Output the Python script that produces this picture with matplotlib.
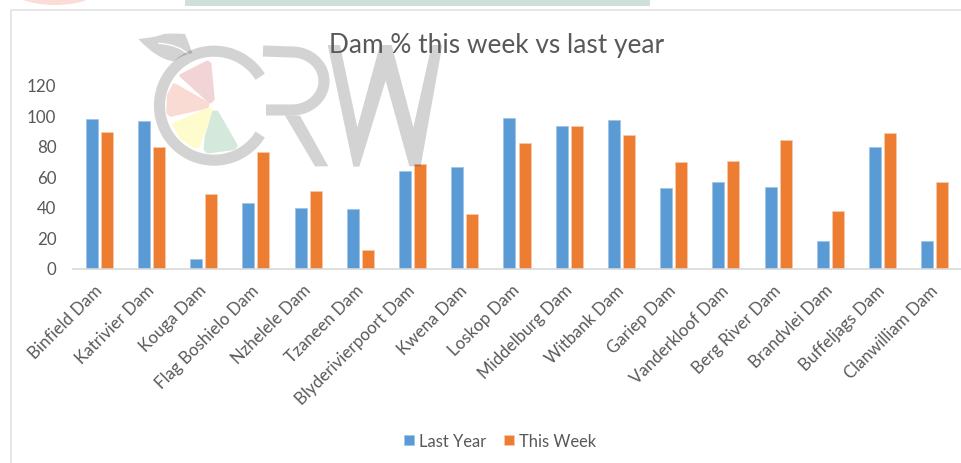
import matplotlib
matplotlib.use('Agg')
import matplotlib.pyplot as plt
import matplotlib.patches as patches
from matplotlib.path import Path
from matplotlib.transforms import ScaledTranslation
import numpy as np

plt.rcParams['font.family'] = ['Lato', 'DejaVu Sans']

# ── Data ──
dams = ['Binfield Dam', 'Katrivier Dam', 'Kouga Dam', 'Flag Boshielo Dam', 'Nzhelele Dam',
        'Tzaneen Dam', 'Blyderivierpoort Dam', 'Kwena Dam', 'Loskop Dam', 'Middelburg Dam',
        'Witbank Dam', 'Gariep Dam', 'Vanderkloof Dam', 'Berg River Dam', 'Brandvlei Dam',
        'Buffeljags Dam', 'Clanwilliam Dam']
last_year = [98.7, 97.4, 6.8, 43.4, 40.1, 39.7, 64.5, 67.3, 99.3, 94.0, 98.0, 53.5, 57.2, 53.9, 18.4, 80.3, 18.4]
this_week = [90.1, 80.3, 49.6, 77.2, 51.3, 12.5, 69.1, 36.0, 82.9, 93.9, 88.2, 70.4, 71.0, 85.0, 38.2, 89.5, 57.2]
y_ticks = [0, 20, 40, 60, 80, 100, 120]

# ── Figure setup ──
W, H = 961, 464
fig = plt.figure(figsize=(W / 100, H / 100), dpi=100)
fig.patch.set_facecolor('white')

TEXT = '#595959'
LINE = '#D9D9D9'

# ── Background layer in pixel coords ──
bg = fig.add_axes([0, 0, 1, 1], zorder=0)
bg.set_xlim(0, W)
bg.set_ylim(H, 0)
bg.axis('off')
bg.add_patch(patches.Rectangle((185, 0), 465, 7, facecolor='#CFE0D8', edgecolor='none'))
bg.add_patch(patches.Ellipse((55, -12), 92, 36, facecolor='#FBDDD5', edgecolor='none'))
bg.plot([10.5, 10.5, W], [H, 11, 11], color='#E2E2E2', linewidth=1.2)

# ── Bars ──
ax = fig.add_axes([73 / W, 1 - 270 / H, 888 / W, (270 - 87.5) / H], zorder=1)
ax.patch.set_alpha(0)
x = np.arange(len(dams))
ax.bar(x - 0.144, last_year, 0.23, color='#5B9BD5', edgecolor='#9DC3E6', linewidth=0.5, label='Last Year')
ax.bar(x + 0.144, this_week, 0.23, color='#ED7D31', edgecolor='#F8CBAD', linewidth=0.5, label='This Week')
ax.set_xlim(-0.5, len(dams) - 0.5)
ax.set_ylim(0, 120)
ax.set_yticks(y_ticks)
ax.set_xticks(x)
ax.set_xticklabels(dams, rotation=45, ha='right', va='top', rotation_mode='anchor',
                   fontsize=12.2, color=TEXT)
ax.tick_params(axis='both', length=0)
ax.tick_params(axis='x', pad=9)
ax.tick_params(axis='y', pad=12, labelsize=12.2, labelcolor=TEXT)
for s in ['top', 'left', 'right']:
    ax.spines[s].set_visible(False)
ax.spines['bottom'].set_color(LINE)
ax.spines['bottom'].set_linewidth(1.2)

# nudge tick labels, pad alone can't do it
x_shift = ScaledTranslation(-5.5 / 100, 0, fig.dpi_scale_trans)
for lab in ax.get_xticklabels():
    lab.set_transform(lab.get_transform() + x_shift)
y_shift = ScaledTranslation(0, 1.5 / 100, fig.dpi_scale_trans)
for lab in ax.get_yticklabels():
    lab.set_transform(lab.get_transform() + y_shift)

fig.text(497 / W, 1 - 46 / H, 'Dam % this week vs last year', ha='center', va='center',
         fontsize=18.9, color=TEXT)

leg = fig.legend(loc='center', bbox_to_anchor=(500 / W, 1 - 442 / H), ncol=2, frameon=False,
                 fontsize=11.9, labelcolor=TEXT, handlelength=0.6, handleheight=0.6,
                 handletextpad=0.3, columnspacing=1.1, borderpad=0)

# ── Watermark: translucent so it darkens what is under it ──
wm = fig.add_axes([0, 0, 1, 1], zorder=3)
wm.set_xlim(0, W)
wm.set_ylim(H, 0)
wm.axis('off')
wm.patch.set_alpha(0)
GREY = dict(color='black', alpha=0.173)

def z(points):
    return [(px / 3, py / 3) for px, py in points]

def leaf_crop(points):
    return [(130 + px / 3, 25 + py / 3) for px, py in points]

# C ring
t = np.radians(np.linspace(32, 328, 120))
wm.plot(642 / 3 + 54.5 * np.cos(t), 320 / 3 - 54.5 * np.sin(t), linewidth=8, solid_capstyle='butt', **GREY)

# R
r_t = np.radians(np.linspace(90, -90, 40))
r_x = [263] + list(292 + 32 * np.cos(r_t)) + [266]
r_y = [52] + list(82 - 29 * np.sin(r_t)) + [111]
wm.plot(r_x, r_y, linewidth=8, solid_capstyle='butt', solid_joinstyle='round', **GREY)
wm.add_patch(patches.Polygon(z([(855, 350), (900, 350), (985, 502), (945, 502)]),
                             facecolor='black', edgecolor='none', alpha=0.173))

# W
wm.add_patch(patches.Polygon(z([(983, 138), (1020, 138), (1072, 385), (1140, 138), (1175, 138),
                                (1240, 385), (1295, 138), (1327, 138), (1262, 502), (1228, 502),
                                (1157, 245), (1078, 503), (1060, 503)]),
                             facecolor='black', edgecolor='none', alpha=0.173))

# leaf
leaf_pts = leaf_crop([(25, 45), (80, 40), (100, 30), (130, 27), (165, 30), (178, 60), (187, 88),
                      (160, 92), (130, 112), (80, 105), (25, 45)])
leaf_codes = [Path.MOVETO, Path.CURVE3, Path.CURVE3, Path.CURVE3, Path.CURVE3, Path.CURVE3, Path.CURVE3,
              Path.CURVE3, Path.CURVE3, Path.CURVE3, Path.CURVE3]
wm.add_patch(patches.PathPatch(Path(leaf_pts, leaf_codes), facecolor='black', edgecolor='none', alpha=0.173))
vein = Path(leaf_crop([(85, 58), (145, 60), (180, 95)]), [Path.MOVETO, Path.CURVE3, Path.CURVE3])
wm.add_patch(patches.PathPatch(vein, facecolor='none', edgecolor='white', linewidth=1))

# fruit slices
slices = [
    ('#F2D4D7', [(155, 155), (232, 116), (238, 120), (248, 225), (240, 232)]),
    ('#F9DBD4', [(133, 184), (232, 240), (230, 248), (122, 272), (115, 265), (117, 215)]),
    ('#FEFCCD', [(133, 302), (238, 256), (242, 262), (204, 365), (195, 367), (155, 340)]),
    ('#D4E8DC', [(252, 266), (260, 266), (317, 365), (310, 372), (235, 382), (227, 375), (230, 340)]),
]
for colour, pts in slices:
    wm.add_patch(patches.Polygon(leaf_crop(pts), facecolor=colour, edgecolor=colour, linewidth=3,
                                 joinstyle='round'))

fig.savefig('out.png', dpi=100, facecolor='white')
plt.close()
